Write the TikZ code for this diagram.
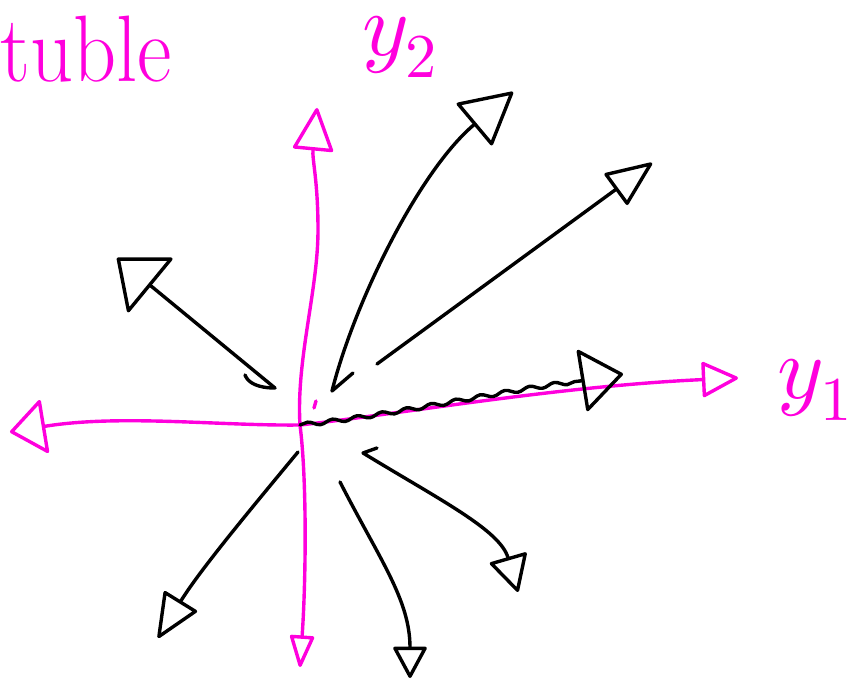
\documentclass[tikz,border=0pt]{standalone}
\usepackage{unicode-math}
\definecolor{penpink}{HTML}{FF00DD}
\usetikzlibrary{arrows.meta, decorations.pathmorphing}

\begin{document}
\begin{tikzpicture}[
  x=0.03cm, y=-0.03cm,
  axis/.style={draw=penpink, line width=2.9pt, line cap=round, line join=round},
  vec/.style={draw=black, line width=2.9pt, line cap=round, line join=round},
  lbl/.style={text=penpink, inner sep=0pt}
]
  \useasboundingbox (0,0) rectangle (856,682);

  % origin and tips
  \coordinate (o) at (300,425);
  \coordinate (xl) at (10,432);
  \coordinate (xr) at (738,378);
  \coordinate (yt) at (317,108);
  \coordinate (yb) at (300,667);

  % labels
  \node[lbl, anchor=base west, font=\fontsize{72}{80}\selectfont] (ttl) at (0,82) {\scalebox{1}[1.12]{tuble}};
  \node[lbl, font=\fontsize{76}{86}\selectfont] (ytwo) at (400,47) {$y_2$};
  \node[lbl, font=\fontsize{76}{86}\selectfont] (yone) at (815,390) {$y_1$};

  % axes
  \draw[axis, {Triangle[open,round,length=1.1cm,width=1.7cm]}-{Triangle[open,round,length=1.15cm,width=1.1cm]}]
    (xl) .. controls (120,414) and (220,426) .. (o)
         .. controls (400,414) and (560,386) .. (xr);
  \draw[axis, {Triangle[open,round,length=1.05cm,width=0.75cm]}-{Triangle[open,round,length=1.35cm,width=1.25cm]}]
    (yb) .. controls (306,580) and (307,480) .. (o)
         .. controls (296,360) and (318,290) .. (318,230)
         .. controls (318,180) and (312,160) .. (yt);
  \draw[axis] (316,401) -- (314,408);

  % vectors
  \coordinate (a1) at (117,258);
  \coordinate (a2) at (513,92);
  \coordinate (a3) at (652,163);
  \coordinate (a4b) at (580,381);
  \coordinate (a4) at (623,374);
  \coordinate (a5) at (158,638);
  \coordinate (a6) at (410,678);
  \coordinate (a7) at (518,592);

  \draw[vec, -{Triangle[open,round,length=1.35cm,width=2.2cm]}]
    (245,375) .. controls (248,383) and (258,388) .. (275,388) -- (a1);
  \draw[vec, -{Triangle[open,round,length=1.6cm,width=1.7cm]}]
    (353,373) -- (332,391) .. controls (355,300) and (420,170) .. (a2);
  \draw[vec, -{Triangle[open,round,length=1.45cm,width=1.2cm]}]
    (377,364) -- (a3);
  \draw[vec, decorate, decoration={snake, amplitude=0.06cm, segment length=0.75cm}]
    (o) .. controls (400,414) and (500,390) .. (a4b);
  \draw[vec, -{Triangle[open,round,length=1.3cm,width=1.95cm]}]
    (a4b) -- (a4);
  \draw[vec, -{Triangle[open,round,length=1.4cm,width=1.2cm]}]
    (298,452) .. controls (250,510) and (200,570) .. (a5);
  \draw[vec, -{Triangle[open,round,length=1.0cm,width=1.05cm]}]
    (340,482) .. controls (380,560) and (410,600) .. (a6);
  \draw[vec, -{Triangle[open,round,length=1.15cm,width=1.2cm]}]
    (377,448) -- (363,453) .. controls (440,500) and (500,530) .. (a7);
\end{tikzpicture}
\end{document}
